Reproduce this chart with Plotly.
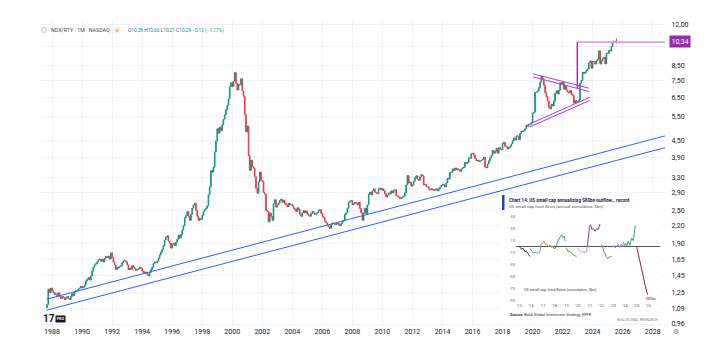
import pandas as pd
import plotly.graph_objects as go

# ---------------- main series: NDX/RTY monthly closes ----------------
first_month = "1987-09-01"
first_open = 1.10
ratio_close = [
    1.13, 1.29, 1.25, 1.30,                                              # 1987 Sep-Dec
    1.27, 1.25, 1.23, 1.24, 1.22, 1.25, 1.21, 1.19, 1.21, 1.20, 1.18, 1.20,  # 1988
    1.21, 1.19, 1.18, 1.21, 1.24, 1.22, 1.26, 1.27, 1.27, 1.29, 1.30, 1.32,  # 1989
    1.30, 1.31, 1.33, 1.38, 1.40, 1.42, 1.39, 1.44, 1.50, 1.55, 1.58, 1.60,  # 1990
    1.62, 1.65, 1.66, 1.63, 1.66, 1.62, 1.67, 1.70, 1.68, 1.70, 1.66, 1.75,  # 1991
    1.68, 1.62, 1.58, 1.52, 1.55, 1.54, 1.56, 1.57, 1.61, 1.63, 1.64, 1.62,  # 1992
    1.58, 1.52, 1.54, 1.52, 1.57, 1.55, 1.53, 1.51, 1.52, 1.53, 1.55, 1.53,  # 1993
    1.50, 1.48, 1.49, 1.47, 1.46, 1.44, 1.48, 1.52, 1.55, 1.60, 1.62, 1.61,  # 1994
    1.63, 1.67, 1.72, 1.76, 1.80, 1.86, 1.95, 2.00, 2.02, 1.93, 1.90, 1.82,  # 1995
    1.88, 1.90, 1.86, 1.91, 1.96, 2.03, 1.98, 2.04, 2.12, 2.20, 2.35, 2.40,  # 1996
    2.48, 2.38, 2.30, 2.42, 2.55, 2.62, 2.66, 2.50, 2.38, 2.30, 2.34, 2.32,  # 1997
    2.40, 2.48, 2.52, 2.55, 2.60, 2.85, 3.05, 3.50, 3.45, 3.60, 4.10, 4.50,  # 1998
    4.98, 4.80, 5.05, 4.90, 5.15, 5.40, 5.60, 5.85, 6.05, 6.40, 7.10, 7.35,  # 1999
    7.10, 7.45, 8.00, 7.30, 6.90, 7.25, 7.20, 7.60, 6.85, 6.55, 5.60, 4.85,  # 2000
    5.10, 3.97, 3.50, 3.82, 3.62, 3.57, 3.33, 3.01, 2.89, 3.19, 3.46, 3.22,  # 2001
    3.20, 2.91, 2.87, 2.50, 2.48, 2.27, 2.45, 2.38, 2.30, 2.65, 2.74, 2.57,  # 2002
    2.62, 2.66, 2.72, 2.75, 2.68, 2.72, 2.65, 2.62, 2.58, 2.66, 2.62, 2.63,  # 2003
    2.60, 2.55, 2.52, 2.48, 2.56, 2.52, 2.42, 2.38, 2.45, 2.50, 2.45, 2.49,  # 2004
    2.42, 2.40, 2.38, 2.44, 2.48, 2.45, 2.42, 2.44, 2.46, 2.50, 2.52, 2.44,  # 2005
    2.38, 2.35, 2.28, 2.25, 2.20, 2.18, 2.15, 2.22, 2.25, 2.24, 2.22, 2.23,  # 2006
    2.25, 2.22, 2.20, 2.24, 2.28, 2.30, 2.42, 2.45, 2.55, 2.68, 2.70, 2.72,  # 2007
    2.62, 2.65, 2.68, 2.66, 2.62, 2.68, 2.54, 2.45, 2.30, 2.45, 2.55, 2.43,  # 2008
    2.62, 2.87, 2.92, 2.85, 2.95, 3.00, 2.92, 2.90, 2.88, 3.00, 3.02, 2.97,  # 2009
    3.00, 2.95, 2.88, 2.80, 2.85, 2.90, 2.88, 2.95, 2.90, 2.96, 2.98, 2.83,  # 2010
    2.82, 2.80, 2.76, 2.78, 2.80, 2.82, 2.90, 3.10, 3.36, 3.15, 3.18, 3.07,  # 2011
    3.10, 3.20, 3.30, 3.35, 3.25, 3.22, 3.32, 3.38, 3.35, 3.10, 3.12, 3.06,  # 2012
    3.05, 3.00, 2.97, 3.00, 2.98, 2.96, 2.98, 3.00, 2.95, 3.00, 3.05, 3.09,  # 2013
    3.12, 3.10, 3.05, 3.15, 3.28, 3.26, 3.45, 3.45, 3.55, 3.50, 3.58, 3.52,  # 2014
    3.55, 3.52, 3.48, 3.55, 3.58, 3.60, 3.75, 3.72, 3.75, 3.90, 3.88, 4.04,  # 2015
    4.05, 3.98, 3.88, 3.80, 3.82, 3.78, 3.80, 3.82, 3.85, 3.92, 3.60, 3.58,  # 2016
    3.70, 3.80, 3.90, 3.98, 4.15, 4.05, 4.12, 4.22, 4.05, 4.25, 4.20, 4.17,  # 2017
    4.40, 4.45, 4.30, 4.28, 4.20, 4.25, 4.30, 4.38, 4.50, 4.61, 4.53, 4.69,  # 2018
    4.69, 4.54, 4.79, 4.89, 4.86, 4.90, 4.98, 5.14, 5.09, 5.17, 5.17, 5.24,  # 2019
    5.67, 5.73, 6.78, 6.79, 6.85, 7.05, 7.37, 7.76, 7.58, 7.19, 6.74, 6.53,  # 2020
    6.30, 5.95, 5.89, 6.12, 6.03, 6.30, 6.72, 6.86, 6.67, 6.90, 7.34, 7.27,  # 2021
    7.36, 6.95, 7.17, 6.90, 6.78, 6.74, 6.87, 6.66, 6.59, 6.18, 6.33, 6.21,  # 2022
    6.27, 6.35, 7.31, 7.49, 8.03, 7.94, 8.02, 8.16, 8.24, 8.67, 8.82, 8.30,  # 2023
    8.80, 8.78, 8.59, 8.84, 8.95, 9.61, 8.59, 8.83, 9.00, 9.12, 8.60, 9.42,  # 2024
    9.39, 9.66, 9.59, 9.97, 10.33, 10.43, 10.38, 10.29,                  # 2025 Jan-Aug
]
last_high = 10.66
last_low = 10.21

# ---------------- drawings on the main chart ----------------
channel_dates = ["1987-08-25", "2028-10-26"]
channel_upper = [1.184, 4.69]
channel_lower = [1.079, 4.246]
wedge_top_dates = ["2020-01-18", "2023-10-03"]
wedge_top_a = [7.91, 7.01]
wedge_top_b = [7.71, 6.82]
wedge_bot_dates = ["2019-10-29", "2023-10-28"]
wedge_bot_a = [5.19, 6.50]
wedge_bot_b = [5.06, 6.33]
measure_date = "2022-12-24"
measure_vals = [7.03, 10.34]
level_dates = ["2022-12-24", "2028-10-26"]
level_value = 10.34

# axis ticks (10,00 sits under the 10,34 price label)
year_ticks = list(range(1988, 2029, 2))
price_ticks = [0.96, 1.09, 1.25, 1.45, 1.65, 1.9, 2.2, 2.5, 2.9, 3.3, 3.9, 4.5,
               5.5, 6.5, 7.5, 8.5, 10.0, 12.0]
price_hidden = [10.0]

# ---------------- inset: US small cap fund flows ----------------
flow_ticks_years = ["'15", "'16", "'17", "'18", "'19", "'20", "'21", "'22",
                    "'23", "'24", "'25", "'26"]
flow_ticks_values = [50, 30, 10, -10, -30, -50, -70, -90]
flow_colors = ["#22306e", "#4fa3d1", "#e8892a", "#3d5566", "#2f9e9b", "#4fa24a",
               "#c792b8", "#7b3f9e", "#8c8088", "#8a8fd1", "#33a38a", "#a3203f"]
flow_t = [
    [0, 0.1, 0.2, 0.3, 0.4, 0.5, 0.6, 0.7, 0.8, 0.91],
    [0.91, 1.0, 1.1, 1.2, 1.35, 1.5, 1.65, 1.75, 1.8, 1.85],
    [1.85, 1.99, 2.10, 2.22, 2.33, 2.47, 2.61, 2.76, 2.90],
    [2.90, 3.04, 3.13],
    [3.13, 3.27, 3.47, 3.61, 3.75, 3.84, 3.92],
    [3.98, 4.09, 4.18, 4.32, 4.46, 4.60, 4.74, 4.89],
    [4.94, 5.09, 5.23, 5.40, 5.60, 5.74, 5.80],
    [5.80, 5.88, 5.99, 6.08, 6.19, 6.31, 6.45, 6.59, 6.73, 6.88],
    [7.02, 7.10, 7.22, 7.33, 7.44, 7.56, 7.67, 7.78, 7.87],
    [7.95, 8.07, 8.18, 8.30, 8.44, 8.58, 8.69, 8.81, 8.92],
    [8.92, 9.06, 9.15, 9.29, 9.43, 9.57, 9.72, 9.80, 9.89],
    [10.0, 10.14, 10.28, 10.43, 10.57, 10.71, 10.85, 10.94],
]
flow_v = [
    [0, -3, -5, -3, -7, -9, -8, -12, -14, -17],
    [-4, -7, -9, -10, -11, -11, -11, -10, -4, 3],
    [2.8, 7.2, 8.3, 2.8, 3.9, -0.6, 1.6, -1.7, 0],
    [-1.7, -4, -0.6],
    [-0.6, 8.3, 15, 19.4, 13.9, 16.7, 8.3],
    [-2.8, -4.5, -9.5, -8.4, -11.7, -13.9, -16.7, -17.8],
    [-2.8, -5.6, -8.4, -9.5, -10, -8.4, 0],
    [0, 13.9, 33.3, 36.1, 27.8, 29.4, 25, 29.4, 27.8, 37.2],
    [2.8, -2.8, -9.5, -12.8, -18.4, -20.6, -17.2, -18.4, -16.1],
    [-1.7, 1.6, -2.8, -0.6, 2.8, -1.7, 3.9, 0, 8.3],
    [0, 5.5, 0, 8.3, 1.6, 13.9, 9.4, 19.4, 35],
    [0, -11.1, -25, -36.1, -50, -63.9, -75, -80.6],
]

# ---------------- build ----------------
dates = pd.date_range(first_month, periods=len(ratio_close), freq="MS")
opens = [first_open] + ratio_close[:-1]
highs = [max(o, c) for o, c in zip(opens, ratio_close)]
lows = [min(o, c) for o, c in zip(opens, ratio_close)]
highs[-1] = last_high
lows[-1] = last_low

FONT = "Roboto, Liberation Sans, sans-serif"
L, R, T, B, W, H = 40, 665, 20, 326, 708, 350


def px(x):
    return (x - L) / (R - L)


def py(y):
    return (B - y) / (B - T)


fig = go.Figure()

fig.add_trace(go.Candlestick(
    x=dates, open=opens, high=highs, low=lows, close=ratio_close,
    increasing=dict(line=dict(color="#089981", width=1), fillcolor="#089981"),
    decreasing=dict(line=dict(color="#f23645", width=1), fillcolor="#f23645"),
    whiskerwidth=0, hoverinfo="skip", name="NDX/RTY",
))

for vals in (channel_upper, channel_lower):
    fig.add_trace(go.Scatter(x=channel_dates, y=vals, mode="lines",
                             line=dict(color="#2962ff", width=1), hoverinfo="skip"))
for d, vals in ((wedge_top_dates, wedge_top_a), (wedge_top_dates, wedge_top_b),
                (wedge_bot_dates, wedge_bot_a), (wedge_bot_dates, wedge_bot_b)):
    fig.add_trace(go.Scatter(x=d, y=vals, mode="lines",
                             line=dict(color="#b23bd1", width=1), hoverinfo="skip"))
fig.add_trace(go.Scatter(x=level_dates, y=[level_value, level_value], mode="lines",
                         line=dict(color="#d9a3e6", width=1.6), hoverinfo="skip"))
fig.add_trace(go.Scatter(x=[measure_date, measure_date], y=measure_vals, mode="lines",
                         line=dict(color="#9c27b0", width=1.4), hoverinfo="skip"))

# inset background subplot (opaque white)
fig.add_trace(go.Scatter(x=[0.5], y=[0.5], mode="markers", marker=dict(opacity=0),
                         xaxis="x2", yaxis="y2", hoverinfo="skip"))
# inset data
for t, v, c in zip(flow_t, flow_v, flow_colors):
    fig.add_trace(go.Scatter(x=t, y=v, mode="lines", line=dict(color=c, width=1),
                             xaxis="x3", yaxis="y3", hoverinfo="skip"))

fig.update_layout(
    width=W, height=H, margin=dict(l=L, r=W - R, t=T, b=H - B),
    paper_bgcolor="white", plot_bgcolor="white", showlegend=False,
    font=dict(family=FONT, color="#131722"),
    xaxis=dict(type="date", range=["1987-03-14", "2028-10-26"],
               tickvals=[f"{y}-01-01" for y in year_ticks],
               ticktext=[str(y) for y in year_ticks],
               showgrid=True, gridcolor="#f0f3fa", gridwidth=1, zeroline=False,
               rangeslider=dict(visible=False), ticks="", showline=False,
               tickfont=dict(size=7, color="#131722", family=FONT)),
    yaxis=dict(type="log", range=[-0.0250, 1.0955], side="right",
               tickvals=price_ticks,
               ticktext=["" if v in price_hidden else f"{v:.2f}".replace(".", ",")
                         for v in price_ticks],
               showgrid=True, gridcolor="#f0f3fa", gridwidth=1, zeroline=False,
               ticks="outside", ticklen=4, tickcolor="rgba(0,0,0,0)", showline=False,
               tickfont=dict(size=7, color="#131722", family=FONT)),
    xaxis2=dict(domain=[px(500), px(662)], anchor="y2", range=[0, 1], visible=False),
    yaxis2=dict(domain=[py(323), py(193)], anchor="x2", range=[0, 1], visible=False),
    xaxis3=dict(domain=[px(516), px(660)], anchor="y3", range=[-0.281, 11.995],
                tickvals=list(range(12)), ticktext=flow_ticks_years,
                showgrid=False, zeroline=False, showline=False, ticks="",
                tickfont=dict(size=4.2, color="#666", family=FONT)),
    yaxis3=dict(domain=[py(302), py(212)], anchor="x3", range=[-92.83, 57.17],
                tickvals=flow_ticks_values, ticktext=[str(v) for v in flow_ticks_values],
                showgrid=False, zeroline=True, zerolinecolor="#555", zerolinewidth=1,
                showline=False, ticks="",
                tickfont=dict(size=4.2, color="#666", family=FONT)),
)

ann = []


def text(x, y, s, size, color, xanchor="left", bg=None, **kw):
    d = dict(x=px(x), y=py(y), xref="paper", yref="paper", text=s, showarrow=False,
             xanchor=xanchor, yanchor="middle",
             font=dict(size=size, color=color, family=FONT))
    if bg:
        d["bgcolor"] = bg
    d.update(kw)
    ann.append(d)


# header
text(49, 30, "NDX/RTY · 1M · NASDAQ", 5.3, "#434651")
text(117, 30, "<b>D</b>", 4.4, "#ff9800", xanchor="center")
tc = "#089981"
text(125.5, 30,
     f"O<span style='color:{tc}'>10,38</span> H<span style='color:{tc}'>10,66</span> "
     f"L<span style='color:{tc}'>10,21</span> C<span style='color:{tc}'>10,29</span> "
     f"<span style='color:{tc}'>−0,12 (−1,17%)</span>", 4.8, "#555")
# last price label
text(680, 42, "10,34", 7, "white", xanchor="center", bg="#9c27b0", borderpad=1.5)
# TV logo
text(41, 318.5, "<b>17</b>", 10, "#131722")
text(55, 318.5, "<b>PRO</b>", 3.6, "white", bg="#131722", borderpad=0.8)
# settings glyph
text(676, 332, "⚙", 7, "#787b86", xanchor="center")
# inset texts
text(506.5, 199.7, "<b>Chart 14: US small cap annualizing $80bn outflow… record</b>",
     4.6, "#1c1c3a")
text(506.5, 206, "US small cap fund flows (annual cumulative; $bn)", 4.3, "#555")
text(522, 289, "US small cap fund flows (cumulative, $bn)", 3.9, "#444")
text(507.5, 314.7, "<b>Source:</b> BofA Global Investment Strategy, EPFR", 3.9, "#333")
text(660, 319.7, "BofA GLOBAL RESEARCH", 3.6, "#888", xanchor="right")
text(650, 298, "-$80bn", 3.6, "#a3203f", xanchor="center")

fig.update_layout(annotations=ann)

shapes = [
    dict(type="circle", xref="paper", yref="paper", x0=px(41.5), x1=px(46.5),
         y0=py(32.5), y1=py(27.5), line=dict(color="#b2b5be", width=0.8)),
    dict(type="circle", xref="paper", yref="paper", x0=px(114), x1=px(120),
         y0=py(33), y1=py(27), line=dict(width=0), fillcolor="#fff0d9", layer="below"),
    dict(type="rect", xref="paper", yref="paper", x0=px(502), x1=px(504.5),
         y0=py(210), y1=py(195), line=dict(width=0), fillcolor="#1a47b0", layer="above"),
]
fig.update_layout(shapes=shapes)

fig.write_html("out.html")
